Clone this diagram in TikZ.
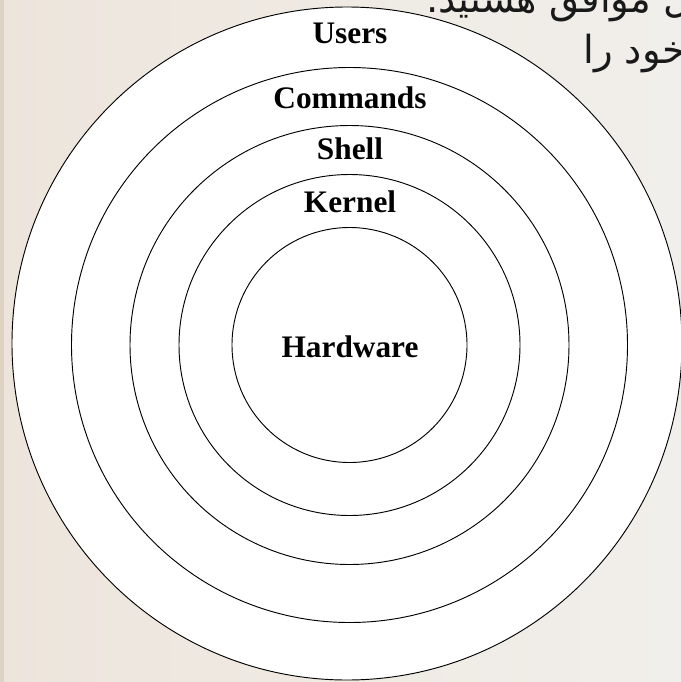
\documentclass[tikz,border=0pt]{standalone}
\usepackage{fontspec}
\setmainfont{Liberation Serif}
\newfontfamily\arabicfont[Script=Arabic]{DejaVu Sans}
\TeXXeTstate=1
\definecolor{bgleft}{RGB}{237,229,220}
\definecolor{bgright}{RGB}{241,239,235}
\definecolor{bgstrip}{RGB}{222,210,195}
\definecolor{fatext}{RGB}{25,25,25}
\begin{document}
\begin{tikzpicture}[x=0.75pt,y=-0.75pt,
  ring/.style={draw=black,line width=0.7pt,fill=white},
  lbl/.style={font=\bfseries\fontsize{23.5pt}{26pt}\selectfont,anchor=base,inner sep=0pt},
  fa/.style={font=\arabicfont\fontsize{29pt}{34pt}\selectfont,text=fatext,anchor=base west,inner sep=0pt}]
\useasboundingbox (0,0) rectangle (681,682);
\clip (0,0) rectangle (681,682);
\shade[left color=bgleft,right color=bgright] (0,0) rectangle (681,682);
\fill[bgstrip] (0,0) rectangle (4,682);
% partly hidden slide text
\node[fa] (fa1) at (426,12) {\beginR اصل موافق هستید.\endR};
\node[fa] (fa2) at (583,63) {\beginR نظر خود را\endR};
% rings
\coordinate (c) at (349.5,345);
\draw[ring] (347,343.5) ellipse [x radius=335*0.75pt, y radius=336.5*0.75pt];
\draw[ring] (c) ellipse [x radius=278*0.75pt, y radius=277.5*0.75pt];
\draw[ring] (c) circle [radius=219.5*0.75pt];
\draw[ring] (c) circle [radius=170.5*0.75pt];
\draw[ring] (c) circle [radius=117.5*0.75pt];
% labels
\node[lbl] (users) at (350,43) {Users};
\node[lbl] (commands) at (350,108) {Commands};
\node[lbl] (shell) at (350,159) {Shell};
\node[lbl] (kernel) at (350,212) {Kernel};
\node[lbl] (hardware) at (350,357) {Hardware};
\end{tikzpicture}
\end{document}
